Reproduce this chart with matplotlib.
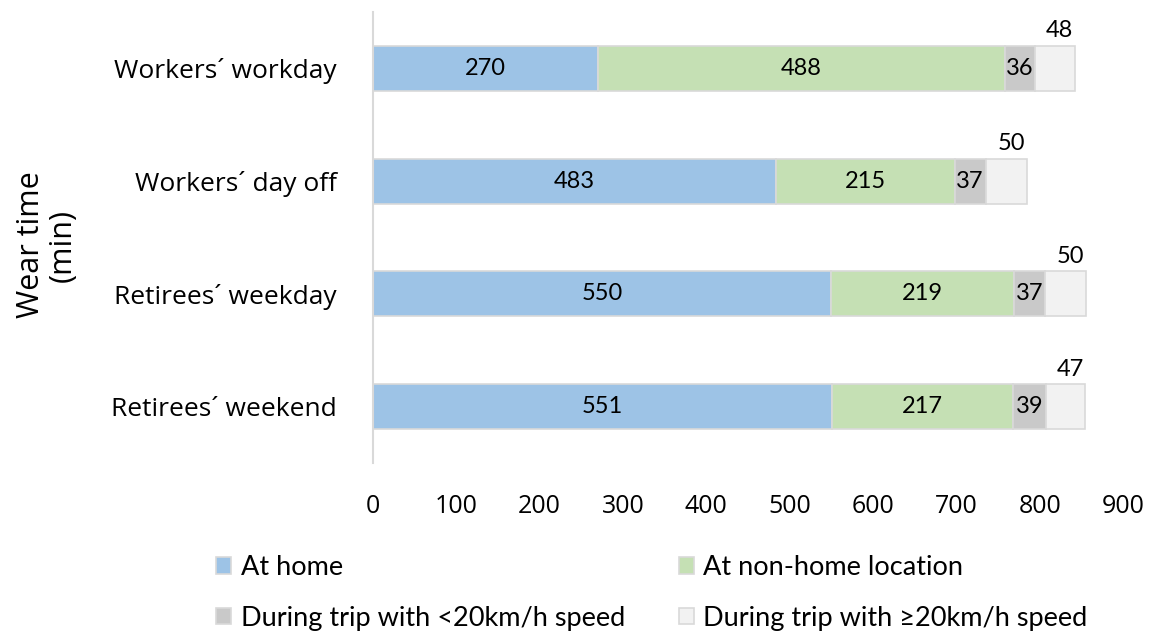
import matplotlib
matplotlib.use("Agg")
import matplotlib.pyplot as plt
import numpy as np

categories = ["Workers´ workday", "Workers´ day off", "Retirees´ weekday", "Retirees´ weekend"]
series_names = ["At home", "At non-home location", "During trip with <20km/h speed", "During trip with ≥20km/h speed"]
at_home = [270, 483, 550, 551]
non_home = [488, 215, 219, 217]
trip_slow = [36, 37, 37, 39]
trip_fast = [48, 50, 50, 47]
xticks = [0, 100, 200, 300, 400, 500, 600, 700, 800, 900]

colors = ["#9DC3E6", "#C5E0B4", "#C9C9C9", "#F2F2F2"]

fig = plt.figure(figsize=(11.51, 6.34), dpi=100)
ax = fig.add_axes([373/1151, 1-463/634, 750/1151, 451/634])

y = np.arange(len(categories))
data = [at_home, non_home, trip_slow, trip_fast]
left = np.zeros(len(categories))
bar_h = 0.4
handles = []
for i, (vals, c, name) in enumerate(zip(data, colors, series_names)):
    vals = np.array(vals, dtype=float)
    h = ax.barh(y, vals, left=left, height=bar_h, color=c, edgecolor="#D9D9D9", linewidth=1.2, label=name)
    handles.append(h)
    for yi, l, v in zip(y, left, vals):
        if i < 3:
            ax.text(l + v/2, yi, f"{int(v)}", ha="center", va="center", fontsize=17, family="Lato", color="#000000")
        else:
            ax.text(l + v/2 + 6, yi - bar_h/2 - 0.04, f"{int(v)}", ha="center", va="bottom", fontsize=17, family="Lato", color="#000000")
    left += vals

ax.set_xlim(0, 900)
ax.set_ylim(len(categories) - 0.5, -0.5)
ax.set_yticks(y)
ax.set_yticklabels(categories, family="Open Sans", fontsize=19)
ax.set_xticks(xticks)
ax.set_xticklabels([str(t) for t in xticks], family="Open Sans", fontsize=18)
ax.tick_params(axis="both", length=0)
ax.tick_params(axis="y", pad=26)
ax.tick_params(axis="x", pad=22)
for s in ["top", "right", "bottom"]:
    ax.spines[s].set_visible(False)
ax.spines["left"].set_color("#D9D9D9")
ax.spines["left"].set_linewidth(1.5)

fig.text(47/1151, 1-245/634, "Wear time\n(min)", rotation=90, ha="center", va="center",
         family="Open Sans", fontsize=22, linespacing=1.05)

order = [0, 2, 1, 3]
leg = fig.legend([handles[k] for k in order], [series_names[k] for k in order], ncol=2,
                 loc="center", bbox_to_anchor=(652/1151, 1-593/634),
                 frameon=False, prop={"family": "Lato", "size": 19.5},
                 handlelength=0.55, handleheight=0.55, handletextpad=0.35,
                 columnspacing=2.0, labelspacing=0.95)

fig.savefig("out.png", dpi=100)
